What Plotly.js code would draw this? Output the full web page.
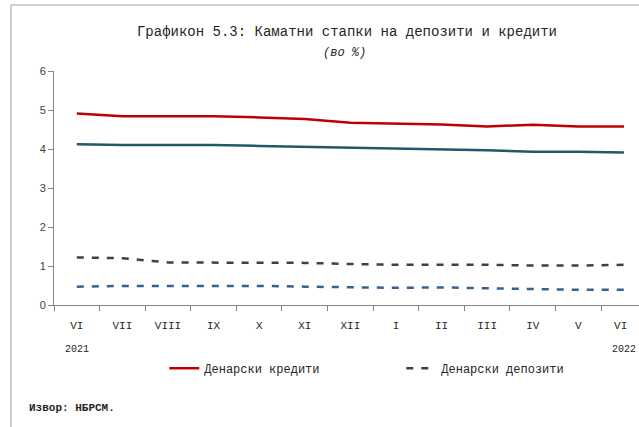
<!DOCTYPE html>
<html>
<head>
<meta charset="utf-8">
<script src="https://cdn.plot.ly/plotly-3.0.1.min.js"></script>
<style>html,body{margin:0;padding:0;background:#fff;}#chart{width:639px;height:427px;}</style>
</head>
<body>
<div id="chart"></div>
<script>
const months = ["VI", "VII", "VIII", "IX", "X", "XI", "XII", "I", "II", "III", "IV", "V", "VI "];
const denarCredits = [4.91, 4.84, 4.84, 4.84, 4.81, 4.77, 4.67, 4.65, 4.63, 4.58, 4.62, 4.58, 4.58];
const foreignCredits = [4.12, 4.10, 4.10, 4.10, 4.08, 4.06, 4.04, 4.02, 4.00, 3.97, 3.93, 3.93, 3.91];
const denarDeposits = [1.22, 1.20, 1.09, 1.09, 1.09, 1.08, 1.05, 1.03, 1.03, 1.03, 1.01, 1.01, 1.03];
const foreignDeposits = [0.47, 0.49, 0.49, 0.49, 0.49, 0.47, 0.45, 0.44, 0.45, 0.43, 0.40, 0.39, 0.39];
const years = ["2021", "2022"];

const mono = "Liberation Mono, Courier New, monospace";

const traces = [
  {x: months, y: denarCredits, type: "scatter", mode: "lines", name: "Денарски кредити",
   line: {color: "#C00000", width: 2.5}},
  {x: months, y: foreignCredits, type: "scatter", mode: "lines", name: "Девизни кредити", showlegend: false,
   line: {color: "#215968", width: 2.5}},
  {x: months, y: denarDeposits, type: "scatter", mode: "lines", name: "Денарски депозити",
   line: {color: "#404040", width: 2.5, dash: "7px,8px"}},
  {x: months, y: foreignDeposits, type: "scatter", mode: "lines", name: "Девизни депозити", showlegend: false,
   line: {color: "#376092", width: 2.5, dash: "7px,8px"}}
];

const layout = {
  width: 639, height: 427,
  margin: {l: 54, r: 0, t: 71, b: 122, autoexpand: false},
  paper_bgcolor: "#fff", plot_bgcolor: "#fff",
  showlegend: true,
  title: {text: "Графикон 5.3: Каматни стапки на депозити и кредити", x: 0.543, xanchor: "center",
          y: 0.928, yanchor: "middle", font: {family: mono, size: 14, color: "#262626"}},
  xaxis: {type: "category", range: [-0.5, 12.33], autorange: false, showgrid: false, zeroline: false,
          showline: true, linecolor: "#868686", linewidth: 1,
          ticks: "outside", ticklen: 5, tickcolor: "#868686", tickson: "boundaries",
          ticklabelstandoff: 10,
          tickfont: {family: mono, size: 11, color: "#262626"}, fixedrange: true},
  yaxis: {range: [0, 6], autorange: false, dtick: 1, showgrid: false, zeroline: false,
          showline: true, linecolor: "#868686", linewidth: 1,
          ticks: "outside", ticklen: 5, tickcolor: "#868686",
          tickfont: {family: "Liberation Sans, Arial, sans-serif", size: 11, color: "#404040"}, fixedrange: true},
  legend: {orientation: "h", x: 0.1885, y: -0.27, xanchor: "left", yanchor: "middle",
           entrywidth: 192, entrywidthmode: "pixels",
           font: {family: mono, size: 12, color: "#262626"}, bgcolor: "rgba(0,0,0,0)"},
  annotations: [
    {text: "<i>(во %)</i>", xref: "paper", yref: "paper", x: 0.497, y: 1.075, showarrow: false,
     font: {family: mono, size: 12, color: "#262626"}, xanchor: "center", yanchor: "middle"},
    {text: years[0], xref: "x", yref: "paper", x: months[0], y: -0.19, showarrow: false,
     font: {family: mono, size: 10, color: "#262626"}, xanchor: "center", yanchor: "middle"},
    {text: years[1], xref: "x", yref: "paper", x: months[12], y: -0.19, showarrow: false,
     font: {family: mono, size: 10, color: "#262626"}, xanchor: "center", yanchor: "middle"},
    {text: "<b>Извор: НБРСМ.</b>", xref: "paper", yref: "paper", x: -0.047, y: -0.44, showarrow: false,
     font: {family: mono, size: 11, color: "#262626"}, xanchor: "left", yanchor: "middle"}
  ],
  shapes: [
    {type: "line", xref: "paper", yref: "paper", x0: -0.0735, x1: 1.2, y0: 1.282, y1: 1.282,
     line: {color: "#BFBFBF", width: 1.5}},
    {type: "line", xref: "paper", yref: "paper", x0: -0.0735, x1: -0.0735, y0: 1.282, y1: -0.6,
     line: {color: "#BFBFBF", width: 1.5}}
  ]
};

Plotly.newPlot("chart", traces, layout, {displayModeBar: false, staticPlot: true});
</script>
</body>
</html>
